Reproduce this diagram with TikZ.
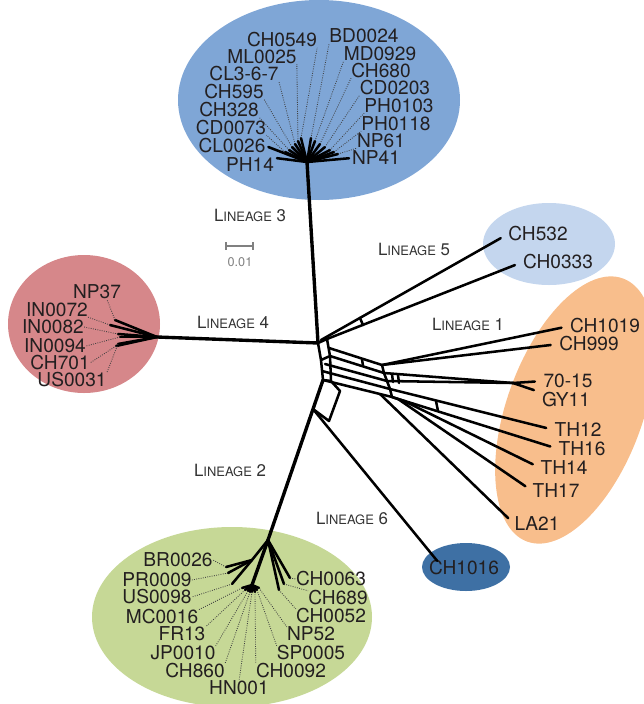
\documentclass[tikz,border=0pt]{standalone}
\usepackage{fontspec}
\setmainfont{TeX Gyre Heros}
\definecolor{grpthree}{RGB}{127,166,214}
\definecolor{grpfive}{RGB}{196,214,238}
\definecolor{grpone}{RGB}{248,190,140}
\definecolor{grpfour}{RGB}{214,135,138}
\definecolor{grptwo}{RGB}{198,216,150}
\definecolor{grpsix}{RGB}{62,112,164}
\definecolor{leaftext}{RGB}{35,31,32}
\newcommand{\lineage}[1]{{\fontsize{12}{12}\selectfont L}{\fontsize{9.2}{9.2}\selectfont INEAGE}\fontsize{12}{12}\selectfont\ #1}

\begin{document}
\begin{tikzpicture}[x=0.025cm, y=-0.025cm, inner sep=0mm,
		leaf/.style={font=\fontsize{13.6}{13.6}\selectfont, text=leaftext, text height=9.8pt, text depth=0pt},
		linlabel/.style={text=black!80},
		branch/.style={line width=1.8pt, line join=round, line cap=round},
		trunk/.style={line width=2.4pt, line cap=round},
		tolabel/.style={branch, shorten >=6pt},
		dotlink/.style={densely dotted, line width=0.6pt, black!75}]

		\useasboundingbox (0,0) rectangle (644,704);
		\clip (0,0) rectangle (644,704);

		% lineage groups
		\fill [grpthree] (319,100) ellipse [x radius=141, y radius=100];
		\fill [grpfive] (549,244) ellipse [x radius=66, y radius=41];
		\fill [grpfour] (84,324) ellipse [x radius=76, y radius=69];
		\fill [grpone, rotate around={70:(575,410)}] (575,410) ellipse [x radius=140, y radius=68];
		\fill [grptwo] (232,617) ellipse [x radius=140, y radius=90];
		\fill [grpsix] (466,567) ellipse [x radius=44, y radius=24];

		% lineage names
		\node [linlabel] (lin3) at (250,215) {\lineage{3}};
		\node [linlabel] (lin5) at (414,249) {\lineage{5}};
		\node [linlabel] (lin4) at (233,322) {\lineage{4}};
		\node [linlabel] (lin1) at (468,324) {\lineage{1}};
		\node [linlabel] (lin2) at (230,470) {\lineage{2}};
		\node [linlabel] (lin6) at (352,518) {\lineage{6}};

		% scale bar
		\draw [gray, line width=0.8pt] (226,246) -- (253,246);
		\draw [gray, line width=0.8pt] (226,242) -- (226,250);
		\draw [gray, line width=0.8pt] (253,242) -- (253,250);
		\node [text=gray, font=\fontsize{9}{9}\selectfont] (scale) at (240,262) {0.01};

		% lineage 3
		\node [leaf] (ch0549) at (282,40) {CH0549};
		\node [leaf] (bd0024) at (364,36) {BD0024};
		\node [leaf] (ml0025) at (262,57) {ML0025};
		\node [leaf] (md0929) at (380,54) {MD0929};
		\node [leaf] (cl367) at (244,74) {CL3-6-7};
		\node [leaf] (ch680) at (381,71) {CH680};
		\node [leaf] (ch595) at (234,92) {CH595};
		\node [leaf] (cd0203) at (395,88) {CD0203};
		\node [leaf] (ch328) at (229,110) {CH328};
		\node [leaf] (ph0103) at (399,106) {PH0103};
		\node [leaf] (cd0073) at (231,128) {CD0073};
		\node [leaf] (ph0118) at (396,124) {PH0118};
		\node [leaf] (cl0026) at (232,146) {CL0026};
		\node [leaf] (np61) at (381,141) {NP61};
		\node [leaf] (ph14) at (250,165) {PH14};
		\node [leaf] (np41) at (376,158) {NP41};

		% lineage 4
		\node [leaf] (np37) at (97,292) {NP37};
		\node [leaf] (in0072) at (57,310) {IN0072};
		\node [leaf] (in0082) at (53,327) {IN0082};
		\node [leaf] (in0094) at (55,346) {IN0094};
		\node [leaf] (ch701) at (60,363) {CH701};
		\node [leaf] (us0031) at (72,380) {US0031};

		% lineage 2
		\node [leaf] (br0026) at (178,560) {BR0026};
		\node [leaf] (pr0009) at (157,580) {PR0009};
		\node [leaf] (us0098) at (157,597) {US0098};
		\node [leaf] (mc0016) at (162,617) {MC0016};
		\node [leaf] (fr13) at (182,634) {FR13};
		\node [leaf] (jp0010) at (183,653) {JP0010};
		\node [leaf] (ch860) at (195,671) {CH860};
		\node [leaf] (hn001) at (239,688) {HN001};
		\node [leaf] (ch0092) at (291,671) {CH0092};
		\node [leaf] (sp0005) at (311,653) {SP0005};
		\node [leaf] (np52) at (311,634) {NP52};
		\node [leaf] (ch0052) at (331,616) {CH0052};
		\node [leaf] (ch689) at (338,598) {CH689};
		\node [leaf] (ch0063) at (331,579) {CH0063};

		% lineages 1, 5, 6
		\node [leaf] (ch532) at (538,234) {CH532};
		\node [leaf] (ch0333) at (558,262) {CH0333};
		\node [leaf] (ch1019) at (605,326) {CH1019};
		\node [leaf] (ch999) at (589,344) {CH999};
		\node [leaf] (n7015) at (568,381) {70-15};
		\node [leaf] (gy11) at (566,400) {GY11};
		\node [leaf] (th12) at (578,430) {TH12};
		\node [leaf] (th16) at (582,449) {TH16};
		\node [leaf] (th14) at (564,468) {TH14};
		\node [leaf] (th17) at (556,491) {TH17};
		\node [leaf] (la21) at (537,524) {LA21};
		\node [leaf] (ch1016) at (464,568) {CH1016};

		% centre of the network
		\coordinate (j) at (318,343);
		\coordinate (q1) at (327,339);
		\coordinate (q2) at (330,356);
		\coordinate (q3) at (321,360);
		\coordinate (f1) at (321,340);
		\coordinate (h3) at (307,162);
		\coordinate (h4) at (157,337);
		\coordinate (s2) at (323,380);
		\coordinate (h2) at (268,540);

		\draw [trunk] (j) -- (h3);
		\draw [trunk] (h4) -- (j);
		\draw [branch] (j) -- (q1) -- (q2) -- (q3) -- cycle;

		% lineage 5 split
		\coordinate (r5) at (360,318);
		\coordinate (r6) at (363,325);
		\draw [tolabel] (f1) -- (ch532.west);
		\draw [tolabel] (q1) -- (ch0333.west);
		\draw [branch] (r5) -- (r6);

		% lineage 1 splits
		\coordinate (a1) at (329,348);
		\coordinate (a3) at (325,364);
		\coordinate (a4) at (322,371);
		\coordinate (b1) at (382,365);
		\coordinate (b2) at (384,373);
		\coordinate (b3) at (387,381);
		\coordinate (b4) at (390,389);
		\coordinate (r1) at (362,359);
		\coordinate (r2) at (363,366);
		\coordinate (m) at (513,383);
		\coordinate (e1) at (380,394);
		\coordinate (e2) at (392,397);
		\coordinate (e3) at (404,401);
		\coordinate (r3) at (436,401);
		\coordinate (r4) at (438,411);

		\draw [branch] (a1) -- (b1);
		\draw [branch] (q2) -- (b2);
		\draw [branch] (a3) -- (b3);
		\draw [branch] (a4) -- (b4);
		\draw [branch] (b1) -- (b2) -- (b3) -- (b4) -- (e2);
		\draw [branch] (r1) -- (r2);
		\draw [branch] (392,374) -- (393,382);
		\draw [branch] (398,375) -- (399,383);
		\draw [branch] (s2) -- (e1) -- (e2) -- (e3);
		\draw [tolabel] (b1) -- (ch1019.west);
		\draw [tolabel] (b1) -- (ch999.west);
		\draw [branch] (b2) -- (m);
		\draw [branch] (b3) -- (m);
		\draw [tolabel] (m) -- (n7015.west);
		\draw [tolabel] (m) -- (gy11.north west);
		\draw [tolabel] (b4) -- (th12.west);
		\draw [tolabel] (e2) -- (th16.west);
		\draw [branch] (r3) -- (r4);
		\draw [tolabel] (e3) -- (th14.west);
		\draw [tolabel] (398,399) -- (th17.west);
		\draw [tolabel] (e1) -- (la21.west);

		% lineages 2 and 6
		\coordinate (p1) at (331,381);
		\coordinate (p2) at (340,391);
		\coordinate (p3) at (329,421);
		\coordinate (p4) at (313,409);
		\draw [branch] (q3) -- (s2);
		\draw [branch] (q2) -- (p1) -- (p2) -- (p3) -- (p4);
		\draw [branch] (s2) -- (p1);
		\draw [trunk] (s2) -- (h2);
		\draw [branch] (p4) -- ([xshift=6pt]ch1016.north west);

		% lineage 3 fan
		\coordinate (ch0549t) at (301,138);
		\coordinate (ml0025t) at (298,141);
		\coordinate (cl367t) at (295,144);
		\coordinate (ch595t) at (292,147);
		\coordinate (ch328t) at (289,150);
		\coordinate (cd0073t) at (285,152);
		\coordinate (bd0024t) at (311,138);
		\coordinate (md0929t) at (315,141);
		\coordinate (ch680t) at (320,144);
		\coordinate (cd0203t) at (325,147);
		\coordinate (ph0103t) at (330,150);
		\coordinate (ph0118t) at (334,152);
		\coordinate (np61t) at (338,154);

		\draw [branch] (h3) -- (ch0549t);
		\draw [branch] (h3) -- (ml0025t);
		\draw [branch] (h3) -- (cl367t);
		\draw [branch] (h3) -- (ch595t);
		\draw [branch] (h3) -- (ch328t);
		\draw [branch] (h3) -- (cd0073t);
		\draw [branch] (h3) -- (bd0024t);
		\draw [branch] (h3) -- (md0929t);
		\draw [branch] (h3) -- (ch680t);
		\draw [branch] (h3) -- (cd0203t);
		\draw [branch] (h3) -- (ph0103t);
		\draw [branch] (h3) -- (ph0118t);
		\draw [branch] (h3) -- (np61t);
		\draw [branch, shorten >=2pt] (h3) -- (cl0026.east);
		\draw [branch, shorten >=2pt] (h3) -- (ph14.north east);
		\draw [branch, shorten >=2pt] (h3) -- (np41.west);

		\draw [dotlink] (ch0549t) -- (ch0549.south east);
		\draw [dotlink] (ml0025t) -- (ml0025.south east);
		\draw [dotlink] (cl367t) -- (cl367.south east);
		\draw [dotlink] (ch595t) -- (ch595.south east);
		\draw [dotlink] (ch328t) -- (ch328.south east);
		\draw [dotlink] (cd0073t) -- (cd0073.south east);
		\draw [dotlink] (bd0024t) -- (bd0024.south west);
		\draw [dotlink] (md0929t) -- (md0929.south west);
		\draw [dotlink] (ch680t) -- (ch680.south west);
		\draw [dotlink] (cd0203t) -- (cd0203.south west);
		\draw [dotlink] (ph0103t) -- (ph0103.south west);
		\draw [dotlink] (ph0118t) -- (ph0118.south west);
		\draw [dotlink] (np61t) -- (np61.south west);

		% lineage 4 fan
		\coordinate (np37t) at (115,320);
		\coordinate (in0072t) at (110,325);
		\coordinate (in0082t) at (118,334);
		\coordinate (in0094t) at (120,337);
		\coordinate (ch701t) at (116,346);
		\coordinate (us0031t) at (118,344);

		\draw [branch] (h4) -- (np37t);
		\draw [branch] (h4) -- (in0072t);
		\draw [branch] (h4) -- (in0082t);
		\draw [branch] (h4) -- (in0094t);
		\draw [branch] (h4) -- (ch701t);
		\draw [branch] (h4) -- (us0031t);

		\draw [dotlink] (np37t) -- ([xshift=7pt]np37.south);
		\draw [dotlink] (in0072t) -- (in0072.south east);
		\draw [dotlink] (in0082t) -- (in0082.east);
		\draw [dotlink] (in0094t) -- (in0094.east);
		\draw [dotlink] (ch701t) -- (ch701.east);
		\draw [dotlink] (us0031t) -- (us0031.north east);

		% lineage 2 fan
		\coordinate (k2) at (252,560);
		\coordinate (g2) at (252,585);
		\coordinate (br0026t) at (226,567);
		\coordinate (pr0009t) at (228,573);
		\coordinate (us0098t) at (232,584);
		\coordinate (mc0016t) at (242,588);
		\coordinate (fr13t) at (245,590);
		\coordinate (jp0010t) at (248,591);
		\coordinate (ch860t) at (250,592);
		\coordinate (hn001t) at (252,592);
		\coordinate (ch0092t) at (255,592);
		\coordinate (sp0005t) at (257,590);
		\coordinate (np52t) at (259,588);
		\coordinate (ch0052t) at (279,590);
		\coordinate (ch689t) at (284,584);
		\coordinate (ch0063t) at (290,578);

		\draw [branch] (h2) -- (k2);
		\draw [branch] (k2) -- (br0026t);
		\draw [branch] (k2) -- (pr0009t);
		\draw [branch] (k2) -- (us0098t);
		\draw [trunk] (h2) -- (g2);
		\draw [branch] (g2) -- (mc0016t);
		\draw [branch] (g2) -- (fr13t);
		\draw [branch] (g2) -- (jp0010t);
		\draw [branch] (g2) -- (ch860t);
		\draw [branch] (g2) -- (hn001t);
		\draw [branch] (g2) -- (ch0092t);
		\draw [branch] (g2) -- (sp0005t);
		\draw [branch] (g2) -- (np52t);
		\draw [branch] (h2) -- (ch0052t);
		\draw [branch] (h2) -- (ch689t);
		\draw [branch] (h2) -- (ch0063t);

		\draw [dotlink] (br0026t) -- (br0026.east);
		\draw [dotlink] (pr0009t) -- (pr0009.east);
		\draw [dotlink] (us0098t) -- (us0098.east);
		\draw [dotlink] (mc0016t) -- (mc0016.north east);
		\draw [dotlink] (fr13t) -- (fr13.north east);
		\draw [dotlink] (jp0010t) -- (jp0010.north east);
		\draw [dotlink] (ch860t) -- (ch860.north east);
		\draw [dotlink] (hn001t) -- (hn001.north);
		\draw [dotlink] (ch0092t) -- (ch0092.north west);
		\draw [dotlink] (sp0005t) -- (sp0005.north west);
		\draw [dotlink] (np52t) -- (np52.north west);
		\draw [dotlink] (ch0052t) -- (ch0052.north west);
		\draw [dotlink] (ch689t) -- (ch689.north west);
		\draw [dotlink] (ch0063t) -- (ch0063.west);
\end{tikzpicture}
\end{document}
